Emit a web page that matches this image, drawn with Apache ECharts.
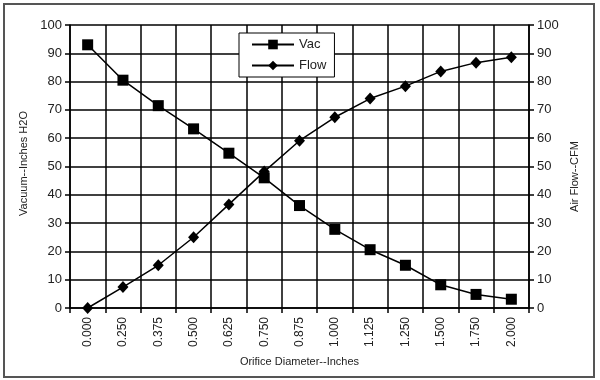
<!DOCTYPE html>
<html><head><meta charset="utf-8">
<script src="https://cdn.jsdelivr.net/npm/echarts@6/dist/echarts.min.js"></script>
<style>html,body{margin:0;padding:0;background:#fff}#c{width:600px;height:380px}</style>
</head><body><div id="c"></div>
<script>
var categories = ['0.000','0.250','0.375','0.500','0.625','0.750','0.875','1.000','1.125','1.250','1.500','1.750','2.000'];
var vac = [93, 80.5, 71.5, 63.3, 54.7, 46.0, 36.2, 27.8, 20.6, 15.1, 8.2, 4.8, 3.1];
var flow = [0, 7.4, 15.1, 25.0, 36.6, 48.2, 59.1, 67.4, 74.0, 78.4, 83.6, 86.7, 88.6];
var yTicks = [0,10,20,30,40,50,60,70,80,90,100];

var font = 'Liberation Sans, Arial, sans-serif';
var chart = echarts.init(document.getElementById('c'), null, {renderer:'canvas'});
chart.setOption({
  animation:false,
  backgroundColor:'#fff',
  textStyle:{fontFamily:font},
  grid:{left:70,right:71,top:25,bottom:72},
  graphic:[{type:'rect',shape:{x:4,y:4,width:590,height:373},style:{fill:'none',stroke:'#555',lineWidth:2},z:100}],
  legend:{
    orient:'vertical',left:239,top:33,
    backgroundColor:'#fff',borderColor:'#000',borderWidth:1,
    padding:[5,8,5,12],itemGap:8,itemWidth:42,itemHeight:12,
    textStyle:{fontFamily:font,fontSize:13,color:'#222'},
    data:['Vac','Flow']
  },
  xAxis:{
    type:'category',data:categories,boundaryGap:true,
    name:'Orifice Diameter--Inches',nameLocation:'middle',nameGap:48,
    nameTextStyle:{fontFamily:font,fontSize:11,color:'#222'},
    axisLine:{lineStyle:{color:'#000',width:1.5}},
    axisTick:{show:true,alignWithLabel:false,length:5,lineStyle:{color:'#000',width:1.5}},
    axisLabel:{rotate:90,interval:0,fontFamily:font,fontSize:12,color:'#222',margin:9},
    splitLine:{show:true,interval:0,lineStyle:{color:'#000',width:1.5}}
  },
  yAxis:[{
    type:'value',min:0,max:100,interval:10,position:'left',
    name:'Vacuum--Inches H2O',nameLocation:'middle',nameGap:40,
    nameTextStyle:{fontFamily:font,fontSize:11,color:'#222',padding:[0,0,0,6]},
    axisLine:{show:true,lineStyle:{color:'#000',width:1.5}},
    axisTick:{show:true,length:5,lineStyle:{color:'#000',width:1.5}},
    axisLabel:{fontFamily:font,fontSize:13,color:'#222',margin:8,
      formatter:function(v){return yTicks.indexOf(v)>=0?String(v):'';}},
    splitLine:{show:true,lineStyle:{color:'#000',width:1.5}}
  },{
    type:'value',min:0,max:100,interval:10,position:'right',
    name:'Air Flow--CFM',nameLocation:'middle',nameGap:40,nameRotate:90,
    nameTextStyle:{fontFamily:font,fontSize:11,color:'#222',padding:[0,20,0,0]},
    axisLine:{show:true,lineStyle:{color:'#000',width:1.5}},
    axisTick:{show:true,length:5,lineStyle:{color:'#000',width:1.5}},
    axisLabel:{fontFamily:font,fontSize:13,color:'#222',margin:8,
      formatter:function(v){return yTicks.indexOf(v)>=0?String(v):'';}},
    splitLine:{show:false}
  }],
  series:[{
    name:'Vac',type:'line',yAxisIndex:0,data:vac,
    symbol:'rect',symbolSize:11,
    lineStyle:{color:'#000',width:1.5},itemStyle:{color:'#000'}
  },{
    name:'Flow',type:'line',yAxisIndex:1,data:flow,
    symbol:'diamond',symbolSize:[11,12],
    lineStyle:{color:'#000',width:1.5},itemStyle:{color:'#000'}
  }]
});
</script></body></html>
